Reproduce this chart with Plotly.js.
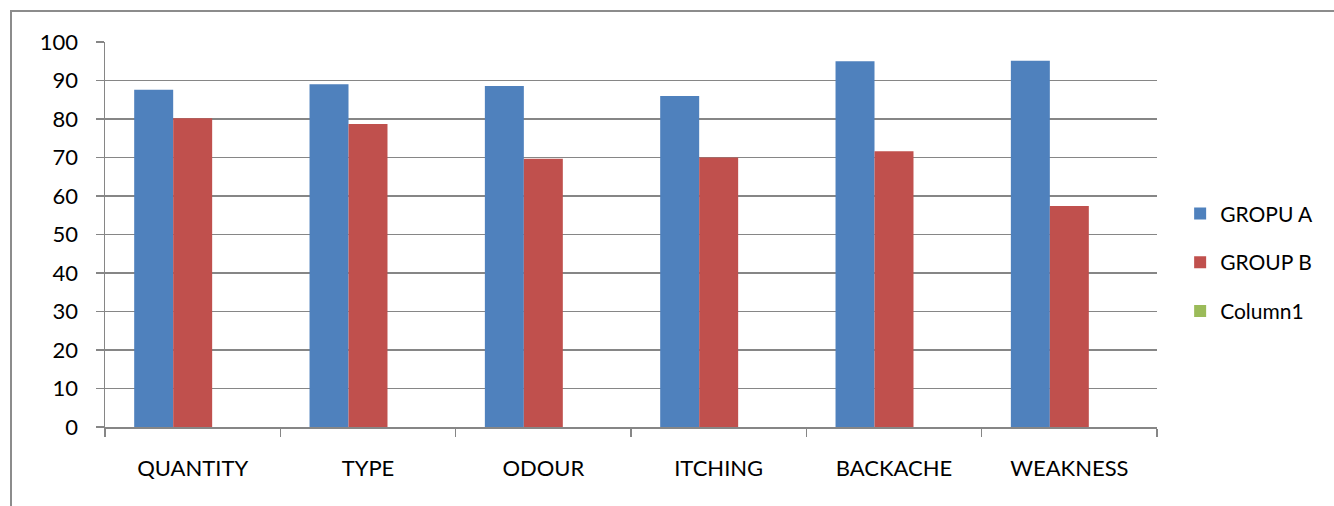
<!DOCTYPE html>
<html>
<head>
<meta charset="utf-8">
<script src="https://cdn.plot.ly/plotly-3.0.1.min.js"></script>
<style>
html,body{margin:0;padding:0;background:#fff;overflow:hidden;}
#chart{width:1334px;height:506px;}
#frame{position:absolute;left:10px;top:10px;width:1400px;height:600px;border:2px solid #8c8c8c;pointer-events:none;box-sizing:border-box;}
</style>
</head>
<body>
<div id="chart"></div>
<div id="frame"></div>
<script>
var categories = ["QUANTITY", "TYPE", "ODOUR", "ITCHING", "BACKACHE", "WEAKNESS"];
var groupA = [87.6, 89.0, 88.6, 86.0, 95.0, 95.1];
var groupB = [80.2, 78.7, 69.7, 70.0, 71.6, 57.4];
var column1 = [null, null, null, null, null, null];
var yTicks = [0, 10, 20, 30, 40, 50, 60, 70, 80, 90, 100];

var font = "Lato, Open Sans, sans-serif";
var traces = [
  {type: "bar", name: "GROPU A", x: categories, y: groupA, marker: {color: "#4F81BD"}, legendgroup: "a"},
  {type: "bar", name: "GROUP B", x: categories, y: groupB, marker: {color: "#C0504D"}, legendgroup: "b"},
  {type: "bar", name: "Column1", x: categories, y: column1, marker: {color: "#9BBB59"}, legendgroup: "c", showlegend: true}
];
var layout = {
  width: 1334, height: 506,
  margin: {l: 105, r: 177, t: 42, b: 79},
  paper_bgcolor: "#ffffff", plot_bgcolor: "#ffffff",
  barmode: "group", bargap: 0.333, bargroupgap: 0,
  font: {family: font, size: 22, color: "#000"},
  showlegend: true,
  legend: {x: 1.022, xanchor: "left", y: 0.607, yanchor: "top", tracegroupgap: 18.5,
           font: {family: font, size: 21, color: "#000"}, bgcolor: "rgba(0,0,0,0)"},
  xaxis: {type: "category", tickson: "boundaries", ticks: "outside", ticklen: 8, tickcolor: "#868686",
          tickwidth: 1.5, showline: true, linecolor: "#868686", linewidth: 1.5, showgrid: false,
          ticklabelstandoff: 21, tickfont: {family: font, size: 22, color: "#000"}, fixedrange: true},
  yaxis: {range: [0, 100], tickvals: yTicks, ticktext: yTicks.map(String), ticks: "outside", ticklen: 8,
          tickcolor: "#868686", tickwidth: 1.5, showline: true, linecolor: "#868686", linewidth: 1.5,
          showgrid: true, gridcolor: "#868686", gridwidth: 1.5, zeroline: false,
          ticklabelstandoff: 13, tickfont: {family: font, size: 22, color: "#000"}, fixedrange: true}
};
Plotly.newPlot("chart", traces, layout, {displayModeBar: false, staticPlot: true});
</script>
</body>
</html>
